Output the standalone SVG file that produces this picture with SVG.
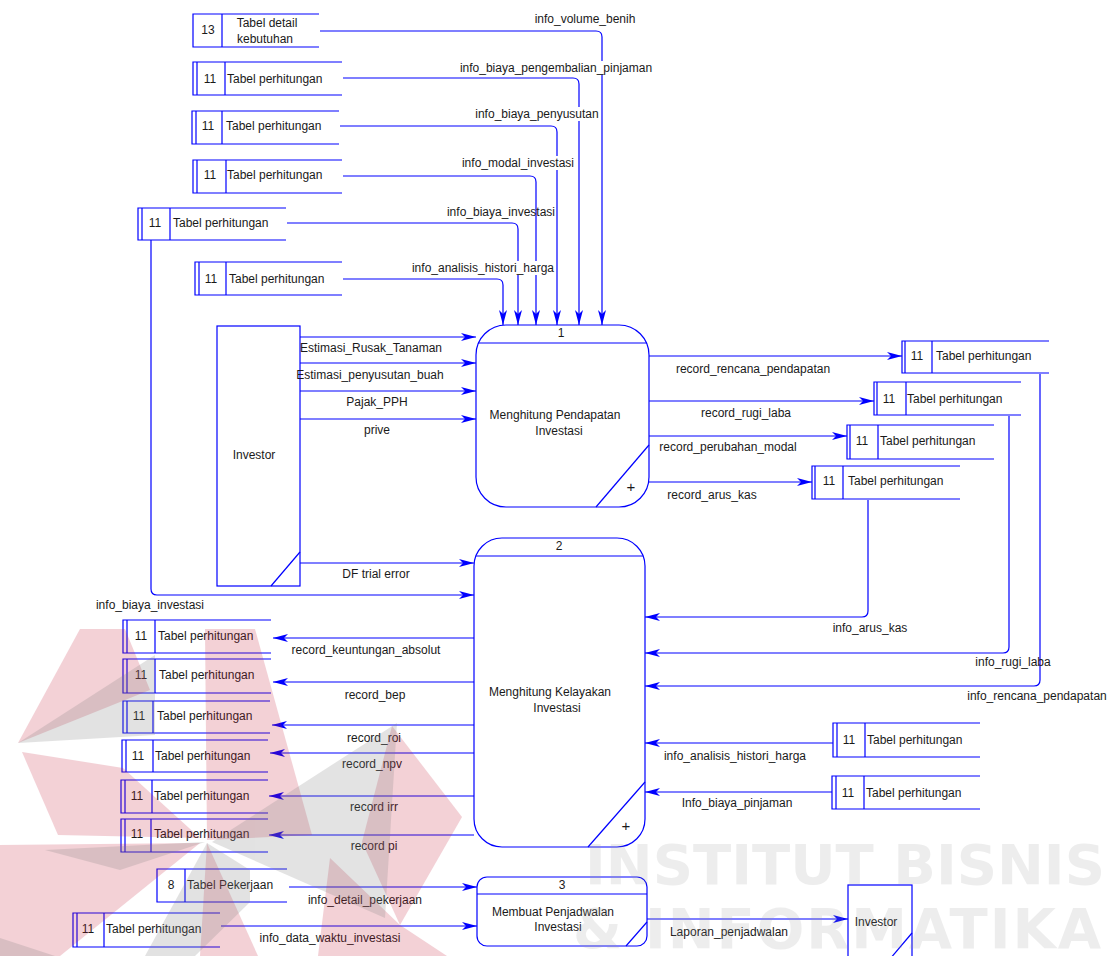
<svg xmlns="http://www.w3.org/2000/svg" width="1110" height="956" viewBox="0 0 1110 956">
  <style>
    .ln { fill: none; stroke: #0000ff; stroke-width: 1.2; }
    .ar { marker-end: url(#ah); }
    .st { fill: none; stroke: #0000ff; stroke-width: 1.2; }
    .box { fill: #ffffff; stroke: #0000ff; stroke-width: 1.2; }
    .t { font-family: "Liberation Sans", Arial, sans-serif; font-size: 12px; fill: #1a1a1a; }
    .m { text-anchor: middle; }
    .bg { fill: #ffffff; stroke: none; }
  </style>
  <defs>
    <marker id="ah" markerUnits="userSpaceOnUse" markerWidth="15" markerHeight="8" refX="15" refY="4" orient="auto">
      <path d="M0,0 L15,4 L0,8 L4,4 Z" fill="#0000ff"/>
    </marker>
  </defs>

  <rect x="0" y="0" width="1110" height="956" fill="#ffffff"/>

  <!-- processes -->
  <g id="process-1">
    <rect class="box" x="476" y="325" width="173" height="182" rx="30" ry="30"/>
    <line class="st" x1="478" y1="343" x2="647" y2="343"/>
    <line class="st" x1="649" y1="445" x2="596" y2="507"/>
    <text class="t m" x="561" y="337">1</text>
    <text class="t m" x="555" y="419">Menghitung Pendapatan</text>
    <text class="t m" x="559" y="435">Investasi</text>
    <text class="t m" x="631" y="492" style="font-size:15px">+</text>
  </g>
  <g id="process-2">
    <rect class="box" x="474" y="538" width="171" height="309" rx="28" ry="28"/>
    <line class="st" x1="476" y1="556" x2="643" y2="556"/>
    <line class="st" x1="645" y1="782" x2="588" y2="847"/>
    <text class="t m" x="559" y="550">2</text>
    <text class="t m" x="550" y="696">Menghitung Kelayakan</text>
    <text class="t m" x="557" y="712">Investasi</text>
    <text class="t m" x="626" y="831" style="font-size:15px">+</text>
  </g>
  <g id="process-3">
    <rect class="box" x="477" y="877" width="170" height="69" rx="10" ry="10"/>
    <line class="st" x1="477" y1="894" x2="647" y2="894"/>
    <line class="st" x1="647" y1="922" x2="626" y2="946"/>
    <text class="t m" x="562" y="889">3</text>
    <text class="t m" x="553" y="916">Membuat Penjadwalan</text>
    <text class="t m" x="558" y="931">Investasi</text>
  </g>

  <!-- external entities -->
  <g id="investor-1">
    <rect class="box" x="217" y="326" width="83" height="260"/>
    <line class="st" x1="300" y1="552" x2="271" y2="586"/>
    <text class="t m" x="254" y="459">Investor</text>
  </g>
  <g id="investor-2">
    <rect class="box" x="848" y="885" width="64" height="90"/>
    <line class="st" x1="912" y1="933" x2="884" y2="966"/>
    <text class="t m" x="876" y="926">Investor</text>
  </g>

  <!-- data stores -->
  <g id="store-detail-kebutuhan">
    <path class="st" d="M319,14 H193 V47 H319 M222,14 V47"/>
    <text class="t m" x="208" y="34">13</text>
    <text class="t m" x="267" y="27">Tabel detail</text>
    <text class="t m" x="265" y="43">kebutuhan</text>
  </g>
  <g id="store-top-1">
    <path class="st" d="M342,62 H193 V95 H342 M197,62 V95 M225,62 V95"/>
    <text class="t m" x="210" y="83">11</text>
    <text class="t" x="227" y="83">Tabel perhitungan</text>
  </g>
  <g id="store-top-2">
    <path class="st" d="M339,111 H192 V144 H339 M196,111 V144 M222,111 V144"/>
    <text class="t m" x="208" y="130">11</text>
    <text class="t" x="226" y="130">Tabel perhitungan</text>
  </g>
  <g id="store-top-3">
    <path class="st" d="M342,160 H193 V193 H342 M197,160 V193 M226,160 V193"/>
    <text class="t m" x="210" y="179">11</text>
    <text class="t" x="227" y="179">Tabel perhitungan</text>
  </g>
  <g id="store-top-4">
    <path class="st" d="M286,208 H138 V240 H286 M142,208 V240 M170,208 V240"/>
    <text class="t m" x="155" y="227">11</text>
    <text class="t" x="173" y="227">Tabel perhitungan</text>
  </g>
  <g id="store-top-5">
    <path class="st" d="M342,262 H195 V295 H342 M199,262 V295 M226,262 V295"/>
    <text class="t m" x="211" y="283">11</text>
    <text class="t" x="229" y="283">Tabel perhitungan</text>
  </g>

  <g id="store-right-a">
    <path class="st" d="M1049,341 H902 V373 H1049 M905,341 V373 M932,341 V373"/>
    <text class="t m" x="917" y="360">11</text>
    <text class="t" x="936" y="360">Tabel perhitungan</text>
  </g>
  <g id="store-right-b">
    <path class="st" d="M1021,382 H874 V415 H1021 M877,382 V415 M906,382 V415"/>
    <text class="t m" x="889" y="403">11</text>
    <text class="t" x="907" y="403">Tabel perhitungan</text>
  </g>
  <g id="store-right-c">
    <path class="st" d="M994,425 H847 V459 H994 M850,425 V459 M878,425 V459"/>
    <text class="t m" x="862" y="445">11</text>
    <text class="t" x="880" y="445">Tabel perhitungan</text>
  </g>
  <g id="store-right-d">
    <path class="st" d="M960,466 H812 V499 H960 M815,466 V499 M843,466 V499"/>
    <text class="t m" x="829" y="485">11</text>
    <text class="t" x="848" y="485">Tabel perhitungan</text>
  </g>
  <g id="store-right-e">
    <path class="st" d="M980,723 H833 V757 H980 M837,723 V757 M865,723 V757"/>
    <text class="t m" x="849" y="744">11</text>
    <text class="t" x="867" y="744">Tabel perhitungan</text>
  </g>
  <g id="store-right-f">
    <path class="st" d="M980,776 H832 V809 H980 M836,776 V809 M864,776 V809"/>
    <text class="t m" x="848" y="797">11</text>
    <text class="t" x="866" y="797">Tabel perhitungan</text>
  </g>

  <g id="store-left-1">
    <path class="st" d="M271,620 H123 V653 H271 M127,620 V653 M155,620 V653"/>
    <text class="t m" x="141" y="640">11</text>
    <text class="t" x="158" y="640">Tabel perhitungan</text>
  </g>
  <g id="store-left-2">
    <path class="st" d="M271,659 H123 V693 H271 M127,659 V693 M155,659 V693"/>
    <text class="t m" x="141" y="679">11</text>
    <text class="t" x="159" y="679">Tabel perhitungan</text>
  </g>
  <g id="store-left-3">
    <path class="st" d="M270,701 H123 V733 H270 M127,701 V733 M153,701 V733"/>
    <text class="t m" x="139" y="720">11</text>
    <text class="t" x="157" y="720">Tabel perhitungan</text>
  </g>
  <g id="store-left-4">
    <path class="st" d="M268,740 H122 V772 H268 M126,740 V772 M153,740 V772"/>
    <text class="t m" x="138" y="760">11</text>
    <text class="t" x="155" y="760">Tabel perhitungan</text>
  </g>
  <g id="store-left-5">
    <path class="st" d="M268,780 H121 V813 H268 M125,780 V813 M152,780 V813"/>
    <text class="t m" x="137" y="800">11</text>
    <text class="t" x="154" y="800">Tabel perhitungan</text>
  </g>
  <g id="store-left-6">
    <path class="st" d="M268,819 H121 V852 H268 M125,819 V852 M151,819 V852"/>
    <text class="t m" x="137" y="838">11</text>
    <text class="t" x="154" y="838">Tabel perhitungan</text>
  </g>
  <g id="store-pekerjaan">
    <path class="st" d="M287,869 H157 V902 H287 M185,869 V902"/>
    <text class="t m" x="171" y="889">8</text>
    <text class="t" x="187" y="889">Tabel Pekerjaan</text>
  </g>
  <g id="store-bottom">
    <path class="st" d="M220,913 H73 V947 H220 M77,913 V947 M104,913 V947"/>
    <text class="t m" x="88" y="933">11</text>
    <text class="t" x="106" y="933">Tabel perhitungan</text>
  </g>

  <!-- data flows -->
  <g id="connectors">
    <path class="ln ar" d="M320,31 H596 Q602,31 602,37 V325"/>
    <path class="ln ar" d="M343,78 H573 Q579,78 579,84 V325"/>
    <path class="ln ar" d="M340,126 H551 Q557,126 557,132 V325"/>
    <path class="ln ar" d="M343,176 H530 Q536,176 536,182 V325"/>
    <path class="ln ar" d="M287,223 H512 Q518,223 518,229 V325"/>
    <path class="ln ar" d="M343,279 H497 Q503,279 503,285 V325"/>
    <path class="ln ar" d="M151,240 V589 Q151,595 157,595 H474"/>

    <path class="ln ar" d="M300,337 H476"/>
    <path class="ln ar" d="M300,363 H476"/>
    <path class="ln ar" d="M300,391 H476"/>
    <path class="ln ar" d="M300,419 H476"/>
    <path class="ln ar" d="M300,563 H474"/>

    <path class="ln ar" d="M649,356 H902"/>
    <path class="ln ar" d="M649,401 H874"/>
    <path class="ln ar" d="M649,436 H847"/>
    <path class="ln ar" d="M649,482 H812"/>

    <path class="ln ar" d="M868,500 V611 Q868,617 862,617 H645"/>
    <path class="ln ar" d="M1009,416 V647 Q1009,653 1003,653 H645"/>
    <path class="ln ar" d="M1040,374 V680 Q1040,686 1034,686 H645"/>
    <path class="ln ar" d="M833,743 H645"/>
    <path class="ln ar" d="M832,792 H645"/>

    <path class="ln ar" d="M474,638 H273"/>
    <path class="ln ar" d="M474,682 H273"/>
    <path class="ln ar" d="M474,725 H272"/>
    <path class="ln ar" d="M474,753 H270"/>
    <path class="ln ar" d="M474,796 H269"/>
    <path class="ln ar" d="M474,835 H269"/>

    <path class="ln ar" d="M289,887 H477"/>
    <path class="ln ar" d="M221,926 H477"/>
    <path class="ln ar" d="M647,919 H848"/>
  </g>

  <!-- flow labels -->
  <g id="flow-labels">
    <text class="t m" x="585" y="23">info_volume_benih</text>
    <rect class="bg" x="458" y="61" width="197" height="14"/>
    <text class="t m" x="556" y="72">info_biaya_pengembalian_pinjaman</text>
    <rect class="bg" x="473" y="107" width="128" height="14"/>
    <text class="t m" x="537" y="118">info_biaya_penyusutan</text>
    <rect class="bg" x="460" y="156" width="117" height="14"/>
    <text class="t m" x="518" y="167">info_modal_investasi</text>
    <text class="t m" x="501" y="216">info_biaya_investasi</text>
    <rect class="bg" x="410" y="261" width="145" height="14"/>
    <text class="t m" x="483" y="272">info_analisis_histori_harga</text>

    <text class="t m" x="371" y="352">Estimasi_Rusak_Tanaman</text>
    <text class="t m" x="370" y="379">Estimasi_penyusutan_buah</text>
    <text class="t m" x="377" y="406">Pajak_PPH</text>
    <text class="t m" x="377" y="434">prive</text>
    <text class="t m" x="376" y="578">DF trial error</text>
    <text class="t m" x="150" y="609">info_biaya_investasi</text>

    <text class="t m" x="753" y="373">record_rencana_pendapatan</text>
    <text class="t m" x="746" y="417">record_rugi_laba</text>
    <text class="t m" x="728" y="451">record_perubahan_modal</text>
    <text class="t m" x="712" y="499">record_arus_kas</text>

    <text class="t m" x="870" y="632">info_arus_kas</text>
    <text class="t m" x="1013" y="666">info_rugi_laba</text>
    <text class="t m" x="1037" y="700">info_rencana_pendapatan</text>
    <text class="t m" x="735" y="760">info_analisis_histori_harga</text>
    <text class="t m" x="737" y="807">Info_biaya_pinjaman</text>

    <text class="t m" x="366" y="654">record_keuntungan_absolut</text>
    <text class="t m" x="375" y="699">record_bep</text>
    <text class="t m" x="374" y="742">record_roi</text>
    <text class="t m" x="372" y="768">record_npv</text>
    <text class="t m" x="374" y="811">record irr</text>
    <text class="t m" x="374" y="850">record pi</text>

    <text class="t m" x="365" y="904">info_detail_pekerjaan</text>
    <text class="t m" x="330" y="942">info_data_waktu_investasi</text>
    <text class="t m" x="729" y="936">Laporan_penjadwalan</text>
  </g>

  <!-- faint institutional watermark laid over the page -->
  <g id="watermark" pointer-events="none">
    <g fill="#c41e3a" opacity="0.2">
      <polygon points="18,743 80,629 125,629 150,690"/>
      <polygon points="205,629 255,629 312,835 207,840"/>
      <polygon points="392,726 462,817 400,925 362,842"/>
      <polygon points="330,858 400,925 447,956 318,956"/>
      <polygon points="22,752 123,768 200,838 58,835"/>
      <polygon points="0,845 200,843 60,956 0,956"/>
      <polygon points="207,843 258,956 200,956"/>
    </g>
    <g fill="#7f7f7f" opacity="0.22">
      <polygon points="18,743 155,655 155,735"/>
      <polygon points="45,850 205,842 120,870"/>
      <polygon points="207,843 250,870 250,902 195,956 145,956"/>
      <polygon points="397,723 212,842 385,918"/>
      <polygon points="0,938 0,956 55,956"/>
    </g>
    <g fill="#999999" opacity="0.17" font-family="'DejaVu Sans', 'Liberation Sans', sans-serif" font-weight="bold" font-size="56">
      <text x="585" y="884" textLength="520" lengthAdjust="spacing">INSTITUT BISNIS</text>
      <text x="573" y="948" textLength="528" lengthAdjust="spacing">&amp; INFORMATIKA</text>
    </g>
  </g>
</svg>
